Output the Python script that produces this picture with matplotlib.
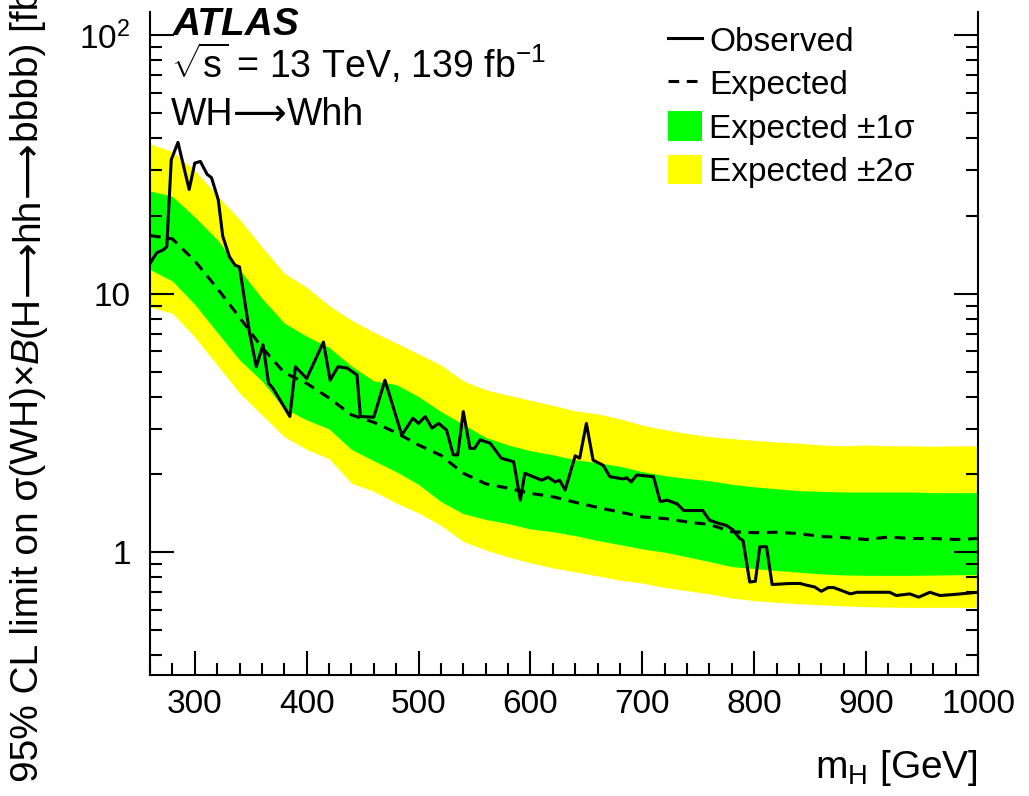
import numpy as np
import matplotlib
matplotlib.use("Agg")
import matplotlib.pyplot as plt
from matplotlib.lines import Line2D
from matplotlib.patches import Patch
from matplotlib.ticker import FixedLocator, FixedFormatter, LogLocator, NullFormatter, MultipleLocator

plt.rcParams['font.family'] = ['Liberation Sans', 'DejaVu Sans']
plt.rcParams['mathtext.fontset'] = 'custom'
plt.rcParams['mathtext.rm'] = 'Liberation Sans'
plt.rcParams['mathtext.it'] = 'Liberation Sans:italic'
plt.rcParams['mathtext.bf'] = 'Liberation Sans:bold'
plt.rcParams['mathtext.sf'] = 'Liberation Sans'

# Expected limit and bands (fb)
band_mass = [260, 280, 300, 320, 340, 360, 380, 400, 420, 440, 460, 480, 500, 520, 540,
             560, 580, 600, 620, 640, 660, 680, 700, 720, 740, 760, 780, 800, 820, 840,
             860, 880, 900, 920, 940, 960, 980, 1000]
exp_median = [16.8, 16.3, 13.4, 10.5, 8.1, 6.2, 4.95, 4.5, 3.95, 3.4, 3.18, 2.9, 2.6, 2.37, 2.02,
              1.84, 1.77, 1.69, 1.64, 1.56, 1.49, 1.43, 1.37, 1.35, 1.31, 1.28, 1.2, 1.19, 1.195, 1.18,
              1.15, 1.14, 1.12, 1.145, 1.13, 1.13, 1.12, 1.13]
exp_1s_hi = [25, 23.8, 19.8, 16.2, 12.4, 9.6, 7.7, 6.85, 6.2, 5.25, 4.6, 4.45, 4.0, 3.5, 3.12,
             2.78, 2.6, 2.47, 2.38, 2.28, 2.22, 2.15, 2.05, 1.98, 1.93, 1.89, 1.83, 1.79, 1.76, 1.73,
             1.72, 1.71, 1.71, 1.71, 1.71, 1.70, 1.70, 1.70]
exp_1s_lo = [12.4, 11.2, 9.1, 7.1, 5.55, 4.6, 3.6, 3.25, 3.0, 2.5, 2.26, 2.05, 1.83, 1.57, 1.41,
             1.34, 1.29, 1.23, 1.2, 1.16, 1.11, 1.07, 1.03, 1.0, 0.96, 0.92, 0.88, 0.865, 0.85, 0.837,
             0.825, 0.817, 0.814, 0.814, 0.814, 0.816, 0.818, 0.82]
exp_2s_hi = [38, 35.5, 30, 24, 19.4, 15.2, 12.0, 10.6, 9.0, 7.9, 7.1, 6.45, 5.85, 5.3, 4.6,
             4.25, 4.05, 3.87, 3.7, 3.52, 3.43, 3.28, 3.1, 2.98, 2.88, 2.8, 2.75, 2.71, 2.67, 2.64,
             2.6, 2.58, 2.6, 2.58, 2.58, 2.57, 2.58, 2.58]
exp_2s_lo = [8.9, 8.4, 6.8, 5.3, 4.13, 3.4, 2.8, 2.5, 2.3, 1.85, 1.72, 1.55, 1.42, 1.27, 1.1,
             1.02, 0.96, 0.91, 0.87, 0.84, 0.81, 0.78, 0.76, 0.73, 0.71, 0.69, 0.665, 0.65, 0.64, 0.632,
             0.626, 0.62, 0.616, 0.613, 0.612, 0.612, 0.612, 0.612]

# Observed limit (fb)
obs_mass = [260, 266, 272, 275, 279, 285, 295, 300, 305, 311, 315, 321, 325, 331, 336, 340,
            349, 355, 361, 366, 370, 385, 390, 400, 415, 421, 428, 436, 445, 448, 460, 470,
            485, 495, 500, 506, 512, 518, 525, 531, 535, 540, 546, 550, 555, 564, 574, 585,
            591, 595, 610, 616, 622, 626, 631, 640, 644, 650, 656, 665, 671, 683, 686, 690,
            695, 710, 716, 722, 731, 737, 754, 760, 769, 775, 781, 787, 790, 796, 801, 805,
            811, 816, 832, 841, 847, 854, 860, 866, 871, 886, 892, 900, 921, 927, 939, 947,
            957, 966, 978, 1000]
obs_limit = [13.1, 14.4, 14.8, 15.2, 33, 38.5, 25.3, 32, 32.5, 29, 28.1, 23.1, 16.7, 13.9, 12.9, 12.7,
             7.05, 5.22, 6.35, 4.5, 4.3, 3.35, 5.22, 4.7, 6.5, 4.63, 5.22, 5.16, 4.85, 3.35, 3.33, 4.63,
             2.84, 3.3, 3.15, 3.35, 3.02, 3.15, 2.97, 2.38, 2.38, 3.5, 2.52, 2.52, 2.72, 2.64, 2.31, 2.24,
             1.59, 2.02, 1.9, 1.95, 1.87, 1.9, 1.74, 2.36, 2.31, 3.15, 2.27, 2.17, 1.96, 1.92, 1.94, 1.87,
             1.99, 1.96, 1.57, 1.59, 1.54, 1.45, 1.45, 1.33, 1.29, 1.27, 1.22, 1.13, 1.11, 0.767, 0.772, 1.05,
             1.05, 0.75, 0.757, 0.757, 0.745, 0.734, 0.706, 0.73, 0.73, 0.69, 0.70, 0.70, 0.70, 0.68, 0.69, 0.67,
             0.70, 0.68, 0.686, 0.70]

legend_labels = ["Observed", "Expected", "Expected \u00b11\u03c3", "Expected \u00b12\u03c3"]

ARROW = "\u27f6"


def chain(ax, first, pieces, vertical=False):
    # lay text pieces one after another, starting from the artist "first"
    prev = first
    for s, kw in pieces:
        if vertical:
            prev = ax.annotate(s, xy=(0.5, 1), xycoords=prev, ha='center', va='bottom',
                               rotation=90, annotation_clip=False, **kw)
        else:
            prev = ax.annotate(s, xy=(1, 0), xycoords=prev, ha='left', va='bottom',
                               annotation_clip=False, **kw)
    return prev


fig = plt.figure(figsize=(10.29, 7.96), dpi=100)
ax = fig.add_axes([150 / 1029, (796 - 675) / 796, 828 / 1029, 663 / 796])

ax.fill_between(band_mass, exp_2s_lo, exp_2s_hi, color='#ffff00', lw=0)
ax.fill_between(band_mass, exp_1s_lo, exp_1s_hi, color='#00ff00', lw=0)
ax.plot(band_mass, exp_median, color='k', lw=2.2, dashes=(3.5, 2.5))
ax.plot(obs_mass, obs_limit, color='k', lw=2.2)

ax.set_yscale('log')
ax.set_xlim(260, 1000)
ax.set_ylim(0.335, 123)

ax.xaxis.set_major_locator(MultipleLocator(100))
ax.xaxis.set_minor_locator(MultipleLocator(20))
ax.yaxis.set_major_locator(FixedLocator([1, 10, 100]))
ax.yaxis.set_major_formatter(FixedFormatter(['1', '10', r'10$^{2}$']))
ax.yaxis.set_minor_locator(LogLocator(base=10, subs=np.arange(2, 10)))
ax.yaxis.set_minor_formatter(NullFormatter())

ax.tick_params(which='both', direction='in', top=False, right=True, width=1.5, labelsize=24)
ax.tick_params(which='major', length=17)
ax.tick_params(which='minor', length=8.5)
ax.tick_params(axis='x', pad=10)
ax.tick_params(axis='y', pad=14)
ax.spines['top'].set_visible(False)
for s in ['left', 'right', 'bottom']:
    ax.spines[s].set_linewidth(1.5)

# axis titles
ax.text(1.0, -0.155, r"m$_{\mathrm{H}}$ [GeV]", transform=ax.transAxes, ha='right', va='baseline', fontsize=28)

yfs = 28
t0 = fig.text(28 / 1029, 14 / 796, "95% CL limit on \u03c3(WH)\u00d7", rotation=90,
              ha='center', va='bottom', fontsize=yfs)
chain(ax, t0, [("B", dict(fontsize=yfs, fontstyle='italic')),
               ("(H", dict(fontsize=yfs)),
               (ARROW, dict(fontsize=yfs, family='DejaVu Sans')),
               ("hh", dict(fontsize=yfs)),
               (ARROW, dict(fontsize=yfs, family='DejaVu Sans')),
               ("bbbb) [fb]", dict(fontsize=yfs))], vertical=True)

# ATLAS labels
ax.text(0.027, 0.965, "ATLAS", transform=ax.transAxes, fontsize=28, fontweight='bold',
        fontstyle='italic', va='baseline')
ax.text(0.025, 0.900, r"$\sqrt{\mathrm{s}}$ = 13 TeV, 139 fb$^{-1}$", transform=ax.transAxes,
        fontsize=27, va='baseline')
t1 = ax.text(0.025, 0.829, "WH", transform=ax.transAxes, fontsize=27, va='baseline')
chain(ax, t1, [(ARROW, dict(fontsize=27, family='DejaVu Sans')),
               ("Whh", dict(fontsize=27))])

handles = [Line2D([], [], color='k', lw=2.2),
           Line2D([], [], color='k', lw=2.2, dashes=(3.5, 2.5)),
           Patch(facecolor='#00ff00', edgecolor='none'),
           Patch(facecolor='#ffff00', edgecolor='none')]
ax.legend(handles, legend_labels, loc='upper left', bbox_to_anchor=(0.6256, 0.981), frameon=False,
          fontsize=24, handlelength=1.03, handleheight=1.0, handletextpad=0.2, labelspacing=0.3,
          borderaxespad=0, borderpad=0)

fig.savefig("out.png", dpi=100)
